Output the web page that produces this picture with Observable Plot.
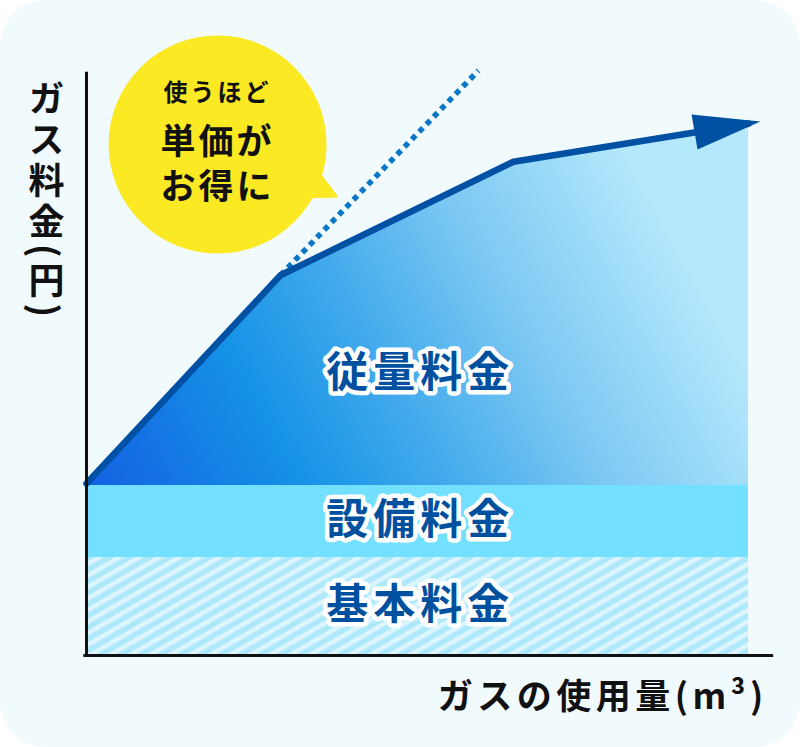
<!DOCTYPE html>
<html><head><meta charset="utf-8">
<script src="https://cdn.jsdelivr.net/npm/d3@7"></script>
<script src="https://cdn.jsdelivr.net/npm/@observablehq/plot@0.6"></script>
<style>
html,body{margin:0;padding:0;background:#fff;}
#wrap{width:800px;height:747px;background:#f1fafd;border-radius:46px;overflow:hidden;}
#wrap svg{display:block;}
</style></head><body><div id="wrap"></div>
<script>
// ---- data (abstract units: usage 0–100, charge 0–100) ----
const usage = [0, 29.3, 64.5, 100];
const charge = [29.4, 65.0, 84.4, 90.9];
const basicTop = 16.75;      // 基本料金 band top
const facilityTop = 29.06;   // 設備料金 band top
const trendUsage = [29.3, 59.2];
const trendCharge = [65.0, 100];
const arrowUsage = [91.4, 101.8, 92.3];
const arrowCharge = [92.5, 91.3, 86.5];
const bubbleCenter = [19.8, 87.35];
const bubbleTailUsage = [34.6, 38.1, 32.8];
const bubbleTailCharge = [83.6, 78.3, 78.1];
const bubbleLines = ["使うほど", "単価が", "お得に"];
const bubbleLineCharge = [96.1, 87.7, 80.0];
const regionLabels = ["従量料金", "設備料金", "基本料金"];
const regionLabelCharge = [48.2, 23.0, 8.55];
const yLabel = "ガス料金(円)";
const xLabel = "ガスの使用量(m³)";

const series = usage.map((u, i) => ({usage: u, charge: charge[i], base: facilityTop}));
const bands = [
  {x1: 0, x2: 100, y1: 0, y2: basicTop, name: "基本料金"},
  {x1: 0, x2: 100, y1: basicTop, y2: facilityTop, name: "設備料金"}
];
const trend = trendUsage.map((u, i) => ({usage: u, charge: trendCharge[i]}));
const arrowHead = arrowUsage.map((u, i) => ({usage: u, charge: arrowCharge[i]}));
const tail = bubbleTailUsage.map((u, i) => ({usage: u, charge: bubbleTailCharge[i]}));
const bubbleText = bubbleLines.map((t, i) => ({text: t, charge: bubbleLineCharge[i]}));
const regionText = regionLabels.map((t, i) => ({text: t, charge: regionLabelCharge[i]}));

const font = "'Noto Sans CJK JP', 'Noto Sans', sans-serif";
const svg = Plot.plot({
  width: 800, height: 747,
  marginLeft: 86, marginRight: 52, marginTop: 70, marginBottom: 92,
  x: {domain: [0, 100], axis: null},
  y: {domain: [0, 100], axis: null},
  style: {background: "transparent", fontFamily: font, overflow: "visible"},
  marks: [
    Plot.rect(bands.slice(0, 1), {x1: "x1", x2: "x2", y1: "y1", y2: "y2", fill: "url(#hatch)"}),
    Plot.rect(bands.slice(1), {x1: "x1", x2: "x2", y1: "y1", y2: "y2", fill: "#72e0fe"}),
    Plot.areaY(series, {x: "usage", y1: "base", y2: "charge", fill: "url(#grad)"}),
    Plot.line(trend, {x: "usage", y: "charge", stroke: "#0a77c6", strokeWidth: 5.5, strokeDasharray: "5.5 5", strokeLinecap: "butt"}),
    Plot.line(series, {x: "usage", y: "charge", stroke: "#0050a4", strokeWidth: 6.5, strokeLinejoin: "miter"}),
    Plot.line(arrowHead, {x: "usage", y: "charge", fill: "#0050a4", stroke: "none"}),
    Plot.ruleX([0], {y1: 0, y2: 99.7, stroke: "#111", strokeWidth: 3}),
    Plot.ruleY([0], {x1: -0.4, x2: 103.8, stroke: "#111", strokeWidth: 3}),
    Plot.line(tail, {x: "usage", y: "charge", fill: "#fbe923", stroke: "none"}),
    Plot.dot([bubbleCenter], {x: d => d[0], y: d => d[1], r: 109, fill: "#fbe923", stroke: "none"}),
    Plot.text(bubbleText.slice(0, 1), {x: bubbleCenter[0], y: "charge", text: "text", fontSize: 24, fontWeight: 700, fill: "#111"}),
    Plot.text(bubbleText.slice(1), {x: bubbleCenter[0], y: "charge", text: "text", fontSize: 35, fontWeight: 700, fill: "#111"}),
    Plot.text(regionText, {x: 50.4, y: "charge", text: "text", fontSize: 42, fontWeight: 700, fill: "#0050a0", stroke: "white", strokeWidth: 9, strokeLinejoin: "round"}),
    Plot.text([xLabel], {x: 102.9, y: -7.26, text: d => d, textAnchor: "end", fontSize: 35, fontWeight: 700, fill: "#111"}),
    Plot.text([yLabel], {x: -6.04, y: 100.35, text: d => d, fontSize: 36, fontWeight: 700, fill: "#111"})
  ]
});

const root = d3.select(svg);
const defs = root.insert("defs", ":first-child");
const grad = defs.append("linearGradient").attr("id", "grad")
  .attr("x1", 0).attr("y1", 1).attr("x2", 1).attr("y2", 0.7);
[[0, "#1460e2"], [0.3, "#1592e6"], [0.5, "#42aaec"], [0.72, "#7cc8f3"], [1, "#b4e8fc"]]
  .forEach(([o, c]) => grad.append("stop").attr("offset", o).attr("stop-color", c));
const pat = defs.append("pattern").attr("id", "hatch").attr("patternUnits", "userSpaceOnUse")
  .attr("width", 10).attr("height", 10).attr("patternTransform", "rotate(-30)");
pat.append("rect").attr("width", 10).attr("height", 10).attr("fill", "#ade8fb");
pat.append("rect").attr("width", 10).attr("height", 4.6).attr("fill", "#dcf5fe");

const byText = list => root.selectAll("text").filter(function () { return list.includes(this.textContent); });
byText(bubbleLines).style("letter-spacing", "3px");
byText(regionLabels).style("letter-spacing", "5px");
byText([xLabel]).style("letter-spacing", "4.5px");
byText([yLabel])
  .attr("dy", null).attr("text-anchor", "start")
  .style("writing-mode", "vertical-rl").style("letter-spacing", "5px");

document.getElementById("wrap").appendChild(svg);
</script>
</body></html>
